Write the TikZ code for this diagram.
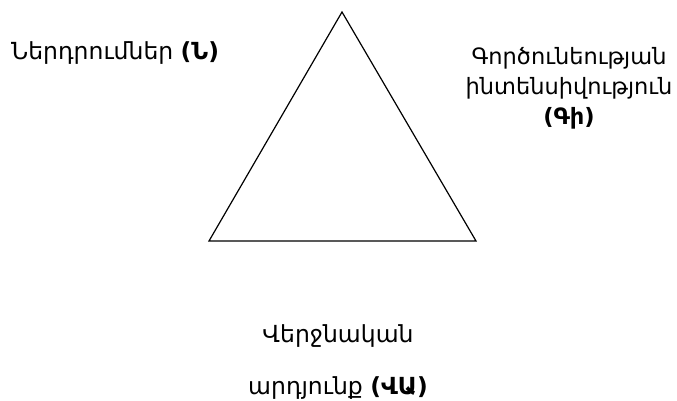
\documentclass[tikz,border=0pt]{standalone}
\usepackage{fontspec}
\setmainfont{DejaVu Sans}
\begin{document}
\begin{tikzpicture}[x=1pt,y=1pt,
  lbl/.style={inner sep=0pt, font=\fontsize{23.5}{30}\selectfont},
  lblr/.style={inner sep=0pt, font=\fontsize{22.5}{30}\selectfont},
  tri/.style={draw=black, line width=1.2pt, line join=miter}]
\useasboundingbox (0,0) rectangle (677,401);
\coordinate (apex) at (342,389);
\coordinate (bl) at (209,160);
\coordinate (br) at (476,160);
\draw[tri] (apex) -- (br) -- (bl) -- cycle;
\node[lbl, anchor=base west] (in) at (11,341) {Ներդրումներ \textbf{(Ն)}};
\node[lblr, align=center] (act) at (569,313) {Գործունեության\\ինտենսիվություն\\\textbf{(Գի)}};
\node[lbl, anchor=base] (fin1) at (338,58) {Վերջնական};
\node[lbl, anchor=base] (fin2) at (338,6) {արդյունք \textbf{(ՎԱ)}};
\end{tikzpicture}
\end{document}
